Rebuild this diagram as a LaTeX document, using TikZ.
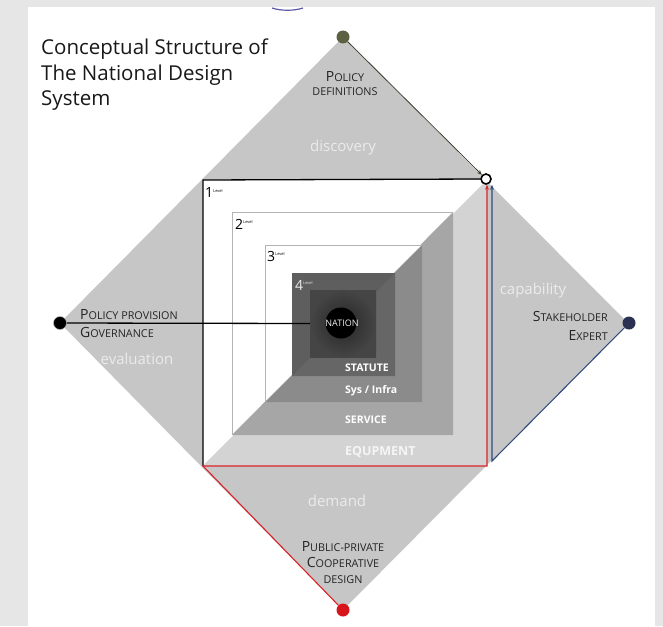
\documentclass[tikz,border=0pt]{standalone}
\usepackage{fontspec}
\setmainfont{Open Sans}
\usepackage{xcolor}
\usetikzlibrary{calc, positioning, arrows.meta}
\definecolor{panelgray}{HTML}{E6E6E6}
\definecolor{diamondgray}{HTML}{C6C6C6}
\definecolor{lvone}{HTML}{D3D3D3}
\definecolor{lvtwo}{HTML}{A6A6A6}
\definecolor{lvthree}{HTML}{8B8B8B}
\definecolor{lvfour}{HTML}{666666}
\definecolor{lvcore}{HTML}{454545}
\definecolor{edgegray}{HTML}{B4B4B4}
\definecolor{topdot}{HTML}{5B6142}
\definecolor{rightdot}{HTML}{2B3152}
\definecolor{reddot}{HTML}{D7141A}
\definecolor{redline}{HTML}{D8232A}
\definecolor{blueline}{HTML}{2F4A7A}
\definecolor{labeltext}{HTML}{242424}
\definecolor{softtext}{HTML}{EBEBEB}
\newcommand{\capsc}[2]{{\fontsize{14}{14}\selectfont #1}{\fontsize{10.8}{14}\selectfont #2}}
\newcommand{\levelsq}[5]{%
  % #1,#2 = top-left corner, #3,#4 = bottom-right corner, #5 = lower-right colour
  \fill[white] (#1,#2) -- (#3,#2) -- (#1,#4) -- cycle;
  \fill[#5] (#3,#2) -- (#3,#4) -- (#1,#4) -- cycle;
}
\newcommand{\levelno}[4]{%
  % #1=x, #2=y, #3=number, #4=colour
  \node[levelnum, text=#4] (lvl#3) at (#1,#2) {#3\textsuperscript{\fontsize{4}{4}\selectfont Level}};
}
\begin{document}
\begin{tikzpicture}[x=1pt, y=-1pt,
  dot/.style={circle, inner sep=0pt, minimum size=13pt},
  sclabel/.style={text=labeltext, align=center, inner sep=0pt},
  softlabel/.style={text=softtext, font=\fontsize{15}{15}\selectfont, inner sep=0pt},
  bandlabel/.style={text=white, font=\bfseries\fontsize{10.5}{12}\selectfont, anchor=west, inner sep=0pt},
  levelnum/.style={font=\fontsize{14}{14}\selectfont, anchor=west, inner sep=0pt},
  flow/.style={line width=1.1pt, -{Stealth[length=5pt, width=4pt]}}]
\useasboundingbox (0,0) rectangle (663,626);

% Page background and panel
\fill[panelgray] (0,0) rectangle (663,626);
\fill[white] (28,7) rectangle (655,626);
\draw[gray!70!blue, line width=1.2pt] (272,8) .. controls (281,11) and (294,11) .. (303,8);

% Diamond
\fill[diamondgray] (343,37) -- (628,323) -- (343,610) -- (60,323) -- cycle;

% Nested levels
\levelsq{203}{180}{487}{466}{lvone}
\levelsq{232}{212}{453}{435}{lvtwo}
\levelsq{265}{245}{422}{402}{lvthree}
\draw[edgegray, line width=0.6pt] (232,435) -- (232,212) -- (453,212);
\draw[edgegray, line width=0.6pt] (265,402) -- (265,245) -- (422,245);
\fill[lvfour!92!black] (292,273) rectangle (395,376);
\fill[lvfour] (395,273) -- (395,376) -- (292,376) -- cycle;
\node[rectangle, inner color=black!85, outer color=lvcore, minimum width=66pt, minimum height=67pt, inner sep=0pt] (core) at (343,323.5) {};
\node[circle, fill=black, minimum size=31pt, inner sep=0pt] (nationdot) at (341,323) {};
\node[text=white!90!gray, font=\fontsize{9}{9}\selectfont, inner sep=0pt] (nationtxt) at (342,323) {NATION};

% Level numbers
\levelno{205}{193}{1}{black}
\levelno{235}{224}{2}{black}
\levelno{267}{256}{3}{black}
\levelno{295}{285}{4}{white!85!gray}

% Band labels
\node[bandlabel] (statute) at (345,368) {STATUTE};
\node[bandlabel] (sysinfra) at (345,391) {Sys / Infra};
\node[bandlabel] (service) at (345,420) {SERVICE};
\node[bandlabel, font=\bfseries\fontsize{12.5}{14}\selectfont, text=white!92!gray] (equip) at (345,452) {EQUPMENT};

% Corner dots
\node[dot, fill=topdot] (tdot) at (343,37) {};
\node[dot, fill=black, draw=gray!60, line width=0.5pt] (ldot) at (60,323) {};
\node[dot, fill=rightdot] (rdot) at (629,323) {};
\node[dot, fill=reddot] (bdot) at (343,610) {};
\node[circle, draw=black, fill=white, line width=1.6pt, minimum size=10pt, inner sep=0pt] (hub) at (486,179) {};
\coordinate (sqtl) at (203,180);
\coordinate (sqbl) at (203,466);
\coordinate (sqbr) at (487,466);
\coordinate (bluefoot) at (492,461);

% Connectors
\draw[line width=1.3pt] (sqbl) -- (sqtl) -- (hub.west);
\draw[flow, redline] (bdot) -- (sqbl) -- (sqbr) -- (sqbr |- hub.south);
\draw[flow, blueline] (rdot) -- (bluefoot) -- (bluefoot |- hub.south);
\draw[line width=0.8pt, topdot!60!black, -{Stealth[length=5pt, width=4pt]}] (tdot) -- (hub);
\draw[line width=1.3pt] (ldot) -- (core.west);

% Title
\node[anchor=north west, align=left, text=black!90, font=\fontsize{20.5}{25.5}\selectfont, inner sep=0pt] (title) at (41,39) {Conceptual Structure of\\The National Design\\System};

% Corner labels
\node[sclabel, font=\fontsize{10.8}{14}\selectfont] (pdef) at (345,84) {\capsc{P}{OLICY}\\\capsc{}{DEFINITIONS}};
\node[sclabel, align=left, anchor=west, font=\fontsize{10.8}{18}\selectfont] (pprov) at (80,324) {\capsc{P}{OLICY PROVISION}\\\capsc{G}{OVERNANCE}};
\node[sclabel, align=right, anchor=east, font=\fontsize{10.8}{19}\selectfont] (stake) at (608,326) {\capsc{S}{TAKEHOLDER}\\\capsc{E}{XPERT}};
\node[sclabel, font=\fontsize{10.8}{16}\selectfont] (ppcd) at (343,563) {\capsc{P}{UBLIC-PRIVATE}\\\capsc{C}{OOPERATIVE}\\\capsc{}{DESIGN}};

% Flow words
\node[softlabel] (discovery) at (343,148) {discovery};
\node[softlabel] (evaluation) at (137,359) {evaluation};
\node[softlabel] (capability) at (533,291) {capability};
\node[softlabel] (demand) at (337,501) {demand};

\end{tikzpicture}
\end{document}
